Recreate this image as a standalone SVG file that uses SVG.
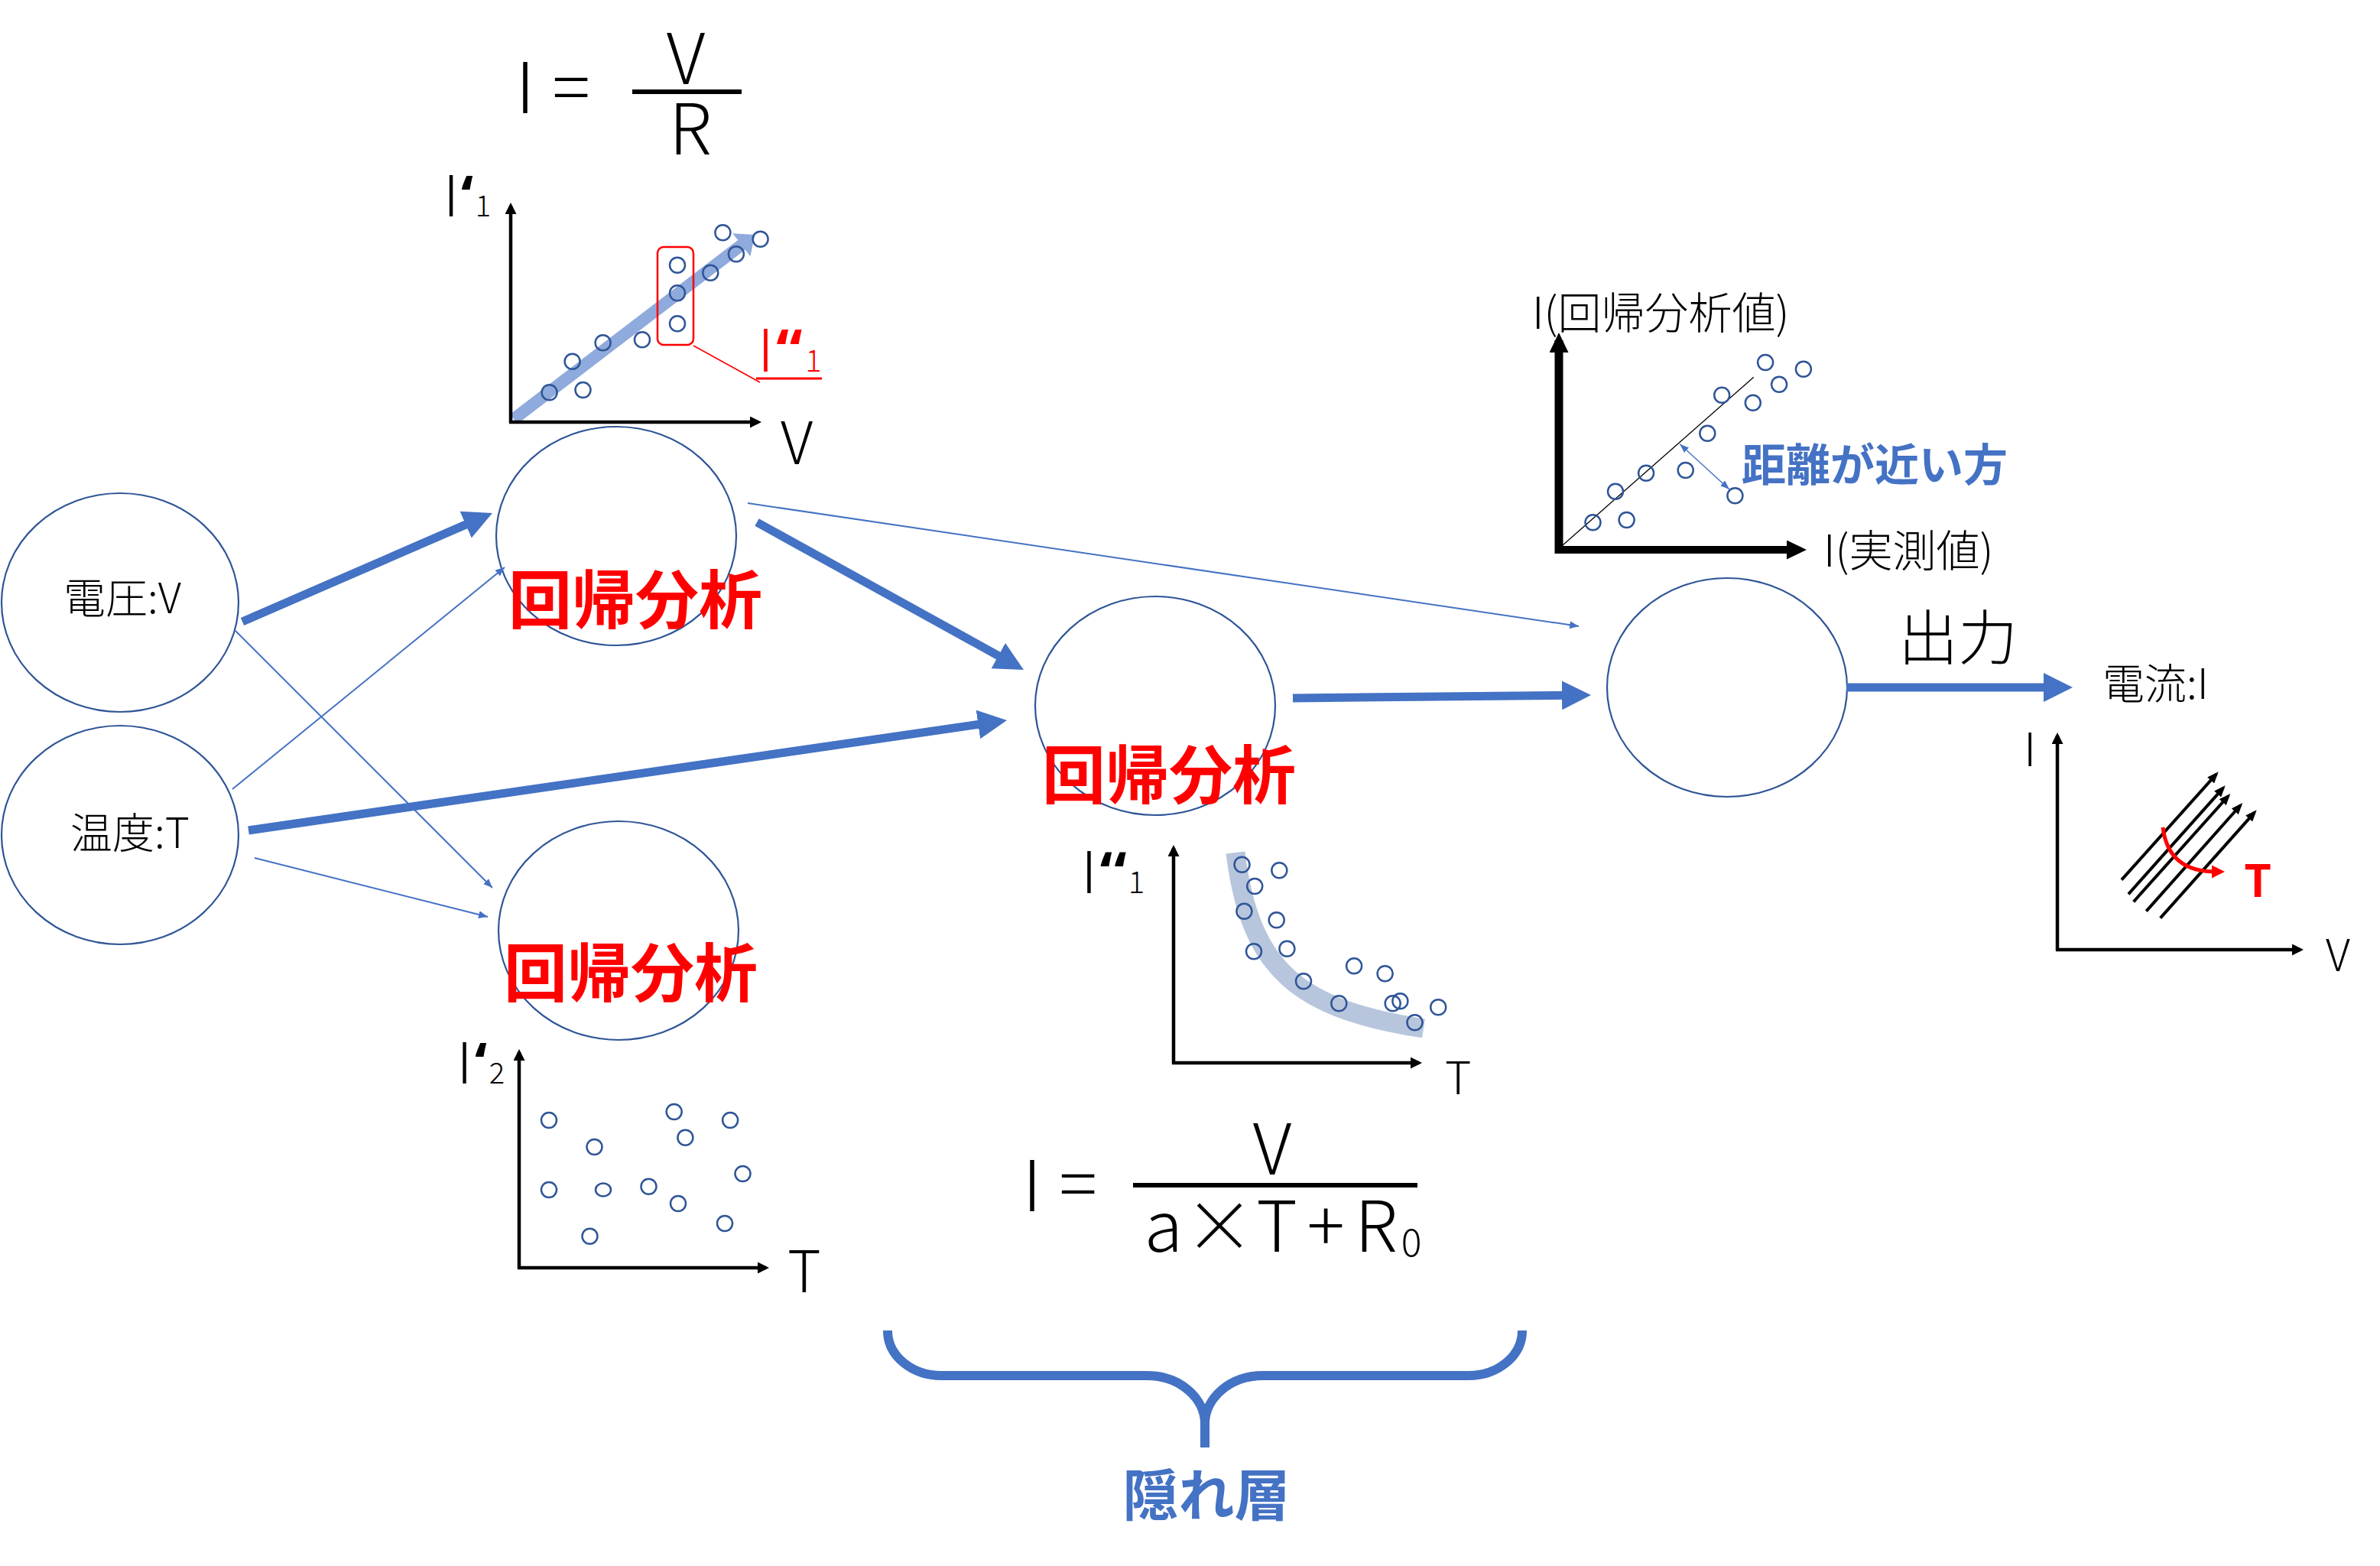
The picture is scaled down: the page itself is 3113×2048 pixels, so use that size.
<svg xmlns="http://www.w3.org/2000/svg" width="3113" height="2048" viewBox="0 0 3113 2048">
<style>
.t{font-family:"Noto Sans CJK JP","Noto Sans",sans-serif;fill:#000;font-weight:300}
.q{font-family:"Noto Sans","Liberation Sans",sans-serif;font-weight:700}
.red{fill:#FF0000;font-weight:700}
.blu{fill:#4472C4;font-weight:700}
.node{fill:#fff;stroke:#2F5597;stroke-width:2.2}
.pt{fill:none;stroke:#2F5597;stroke-width:2.5}
.ax{fill:none;stroke:#000;stroke-width:4.5}
.thick{fill:none;stroke:#4472C4;stroke-width:11}
.thin{fill:none;stroke:#4472C4;stroke-width:2}
</style>
<defs>
<marker id="aT" markerUnits="userSpaceOnUse" markerWidth="38" markerHeight="38" refX="10" refY="19" orient="auto"><path d="M0,0 L38,19 L0,38 z" fill="#4472C4"/></marker>
<marker id="at" markerUnits="userSpaceOnUse" markerWidth="12" markerHeight="10" refX="12" refY="5" orient="auto"><path d="M0,0 L12,5 L0,10 z" fill="#4472C4"/></marker>
<marker id="ad" markerUnits="userSpaceOnUse" markerWidth="12" markerHeight="9" refX="12" refY="4.5" orient="auto-start-reverse"><path d="M0,0 L12,4.5 L0,9 z" fill="#4472C4"/></marker>
<marker id="ak" markerUnits="userSpaceOnUse" markerWidth="15" markerHeight="15" refX="11" refY="7.5" orient="auto"><path d="M0,0 L15,7.5 L0,15 z" fill="#000"/></marker>
<marker id="akb" markerUnits="userSpaceOnUse" markerWidth="26" markerHeight="25" refX="16" refY="12.5" orient="auto"><path d="M0,0 L26,12.5 L0,25 z" fill="#000"/></marker>
<marker id="aks" markerUnits="userSpaceOnUse" markerWidth="15" markerHeight="12" refX="11" refY="6" orient="auto"><path d="M0,0 L15,6 L0,12 z" fill="#000"/></marker>
<marker id="alb" markerUnits="userSpaceOnUse" markerWidth="22" markerHeight="38" refX="4" refY="19" orient="auto"><path d="M0,0 L22,19 L0,38 z" fill="#8FAADC"/></marker>
<marker id="ar" markerUnits="userSpaceOnUse" markerWidth="17" markerHeight="17" refX="5" refY="8.5" orient="auto"><path d="M0,0 L17,8.5 L0,17 z" fill="#FF0000"/></marker>
</defs>

<!-- top formula -->
<g id="formula-top" class="t" font-size="92" text-anchor="middle">
<text x="687" y="148">I</text>
<text x="747" y="148">=</text>
<text x="897" y="110">V</text>
<text x="903" y="202">R</text>
<path d="M827,120 L970,120" stroke="#000" stroke-width="6"/>
</g>

<!-- chart 1 -->
<g id="chart-v">
<path d="M672,548 L973,318" stroke="#8FAADC" stroke-width="16" fill="none" marker-end="url(#alb)"/>
<path class="ax" d="M668,553 L668,269" marker-end="url(#ak)"/>
<path class="ax" d="M666,552 L992,552" marker-end="url(#ak)"/>
<circle class="pt" cx="718.6" cy="513.3" r="10"/>
<circle class="pt" cx="762.5" cy="510" r="10"/>
<circle class="pt" cx="748.6" cy="472.7" r="10"/>
<circle class="pt" cx="788.6" cy="448.3" r="10"/>
<circle class="pt" cx="840" cy="444.3" r="10"/>
<circle class="pt" cx="886" cy="383.3" r="10"/>
<circle class="pt" cx="886" cy="346.7" r="10"/>
<circle class="pt" cx="886" cy="423.3" r="10"/>
<circle class="pt" cx="929.3" cy="356.7" r="10"/>
<circle class="pt" cx="962.9" cy="332.3" r="10"/>
<circle class="pt" cx="945.4" cy="304.3" r="10"/>
<circle class="pt" cx="994.6" cy="312.7" r="10"/>
<rect x="860" y="323" width="47" height="128" rx="8" fill="none" stroke="#FF0000" stroke-width="2.5"/>
<path d="M907,452 L994,500" stroke="#FF0000" stroke-width="1.5" fill="none"/>
<path d="M989,495 L1075,495" stroke="#FF0000" stroke-width="3" fill="none"/>
<text class="t" font-size="74" text-anchor="middle"><tspan x="590" y="283">I</tspan><tspan class="q" x="611" y="283">‘</tspan><tspan x="632" y="283" font-size="38">1</tspan></text>
<text class="t" font-size="77" x="1021" y="607">V</text>
<text class="t" font-size="77" text-anchor="middle" style="fill:#FF0000"><tspan x="1001.5" y="486">I</tspan><tspan class="q" x="1023.5" y="486">‘</tspan><tspan class="q" x="1041" y="486">‘</tspan><tspan x="1064" y="486" font-size="40">1</tspan></text>
</g>

<!-- nodes -->
<g id="node-voltage">
<ellipse class="node" cx="157" cy="788" rx="155" ry="143"/>
<text class="t" font-size="55" x="160" y="802" text-anchor="middle">電圧:V</text>
</g>
<g id="node-temperature">
<ellipse class="node" cx="157" cy="1092" rx="155" ry="143"/>
<text class="t" font-size="55" x="170" y="1109" text-anchor="middle">温度:T</text>
</g>
<g id="node-hidden-top">
<ellipse class="node" cx="806" cy="701" rx="157" ry="143"/>
<text class="t red" font-size="83" x="831" y="815" text-anchor="middle">回帰分析</text>
</g>
<g id="node-hidden-bottom">
<ellipse class="node" cx="809" cy="1217" rx="157" ry="143"/>
<text class="t red" font-size="83" x="825" y="1303" text-anchor="middle">回帰分析</text>
</g>
<g id="node-hidden-middle">
<ellipse class="node" cx="1511" cy="923" rx="157" ry="143"/>
<text class="t red" font-size="83" x="1529" y="1044" text-anchor="middle">回帰分析</text>
</g>
<g id="node-output">
<ellipse class="node" cx="2259" cy="899" rx="157" ry="143"/>
</g>

<!-- connectors -->
<g id="connectors">
<path class="thick" d="M317,813 L618.3,682.1" marker-end="url(#aT)"/>
<path class="thin" d="M307,824 L644,1161" marker-end="url(#at)"/>
<path class="thin" d="M304,1032 L660,742" marker-end="url(#at)"/>
<path class="thick" d="M325,1086 L1289.3,946" marker-end="url(#aT)"/>
<path class="thin" d="M333,1122 L638,1199" marker-end="url(#at)"/>
<path class="thick" d="M990,683 L1314.5,862.4" marker-end="url(#aT)"/>
<path class="thin" d="M978,658 L2065,819" marker-end="url(#at)"/>
<path class="thick" d="M1691,913 L2053,909.3" marker-end="url(#aT)"/>
<path class="thick" d="M2415,899 L2683,899" marker-end="url(#aT)"/>
</g>
<text class="t" font-size="78" x="2561" y="863" text-anchor="middle">出力</text>
<text class="t" font-size="55" x="2750" y="914">電流:I</text>

<!-- top-right chart -->
<g id="chart-compare">
<path d="M2041.7,715 L2293.7,493.3" stroke="#000" stroke-width="1.3" fill="none"/>
<path d="M2039,724 L2039,445" fill="none" stroke="#000" stroke-width="11" marker-end="url(#akb)"/>
<path d="M2034,719 L2353,719" fill="none" stroke="#000" stroke-width="10" marker-end="url(#akb)"/>
<circle class="pt" cx="2083.5" cy="683.3" r="10"/>
<circle class="pt" cx="2127.6" cy="680" r="10"/>
<circle class="pt" cx="2113" cy="642.7" r="10"/>
<circle class="pt" cx="2153.1" cy="618.7" r="10"/>
<circle class="pt" cx="2204.7" cy="615" r="10"/>
<circle class="pt" cx="2233.3" cy="566.7" r="10"/>
<circle class="pt" cx="2269.4" cy="648.3" r="10"/>
<circle class="pt" cx="2252.2" cy="516.7" r="10"/>
<circle class="pt" cx="2292.8" cy="526.7" r="10"/>
<circle class="pt" cx="2327.1" cy="502.7" r="10"/>
<circle class="pt" cx="2309.1" cy="474" r="10"/>
<circle class="pt" cx="2358.9" cy="482.7" r="10"/>
<path d="M2197.2,580.7 L2262,640" stroke="#4472C4" stroke-width="1.5" fill="none" marker-start="url(#ad)" marker-end="url(#ad)"/>
<text class="t" font-size="57" x="2004" y="430">I(回帰分析値)</text>
<text class="t" font-size="57" x="2385" y="741">I(実測値)</text>
<text class="t blu" font-size="58" x="2278" y="629">距離が近い方</text>
</g>

<!-- middle chart -->
<g id="chart-t1">
<path d="M1616,1115 C1635,1270 1700,1320 1862,1345" stroke="#B7C6DC" stroke-width="25" fill="none"/>
<path class="ax" d="M1535,1391 L1535,1109" marker-end="url(#ak)"/>
<path class="ax" d="M1533,1390 L1856,1390" marker-end="url(#ak)"/>
<circle class="pt" cx="1624.5" cy="1130.7" r="10"/>
<circle class="pt" cx="1673.3" cy="1138.3" r="10"/>
<circle class="pt" cx="1641.2" cy="1159" r="10"/>
<circle class="pt" cx="1627.4" cy="1191.7" r="10"/>
<circle class="pt" cx="1669.7" cy="1203.3" r="10"/>
<circle class="pt" cx="1640" cy="1244.3" r="10"/>
<circle class="pt" cx="1683.4" cy="1240.7" r="10"/>
<circle class="pt" cx="1705" cy="1283.3" r="10"/>
<circle class="pt" cx="1771.1" cy="1263.3" r="10"/>
<circle class="pt" cx="1751.3" cy="1312.3" r="10"/>
<circle class="pt" cx="1811.6" cy="1273.3" r="10"/>
<circle class="pt" cx="1821.7" cy="1312.3" r="10"/>
<circle class="pt" cx="1831.4" cy="1309.3" r="10"/>
<circle class="pt" cx="1850.5" cy="1337.3" r="10"/>
<circle class="pt" cx="1881.2" cy="1317.3" r="10"/>
<text class="t" font-size="75" text-anchor="middle"><tspan x="1424.5" y="1168">I</tspan><tspan class="q" x="1447" y="1168">‘</tspan><tspan class="q" x="1465.5" y="1168">‘</tspan><tspan x="1486.5" y="1168" font-size="40">1</tspan></text>
<text class="t" font-size="59" x="1890" y="1431">T</text>
</g>

<!-- bottom-left chart -->
<g id="chart-t2">
<path class="ax" d="M679,1659 L679,1376" marker-end="url(#ak)"/>
<path class="ax" d="M677,1658 L1002,1658" marker-end="url(#ak)"/>
<circle class="pt" cx="718" cy="1465" r="10"/>
<circle class="pt" cx="777.5" cy="1500" r="10"/>
<circle class="pt" cx="718" cy="1556" r="10"/>
<ellipse class="pt" cx="789" cy="1556" rx="10" ry="8.5"/>
<circle class="pt" cx="848.5" cy="1551.7" r="10"/>
<circle class="pt" cx="771.5" cy="1616.7" r="10"/>
<circle class="pt" cx="881.7" cy="1454" r="10"/>
<circle class="pt" cx="896.4" cy="1487.7" r="10"/>
<circle class="pt" cx="955.1" cy="1465" r="10"/>
<circle class="pt" cx="971.5" cy="1535" r="10"/>
<circle class="pt" cx="887" cy="1574" r="10"/>
<circle class="pt" cx="948" cy="1600" r="10"/>
<text class="t" font-size="74" text-anchor="middle"><tspan x="607.5" y="1417">I</tspan><tspan class="q" x="629" y="1417">‘</tspan><tspan x="650" y="1417" font-size="38">2</tspan></text>
<text class="t" font-size="75" x="1030" y="1690">T</text>
</g>

<!-- bottom formula -->
<g id="formula-bottom" class="t" font-size="92" text-anchor="middle">
<text x="1350" y="1584">I</text>
<text x="1410" y="1582">=</text>
<text x="1664" y="1536">V</text>
<path d="M1482,1550 L1854,1550" stroke="#000" stroke-width="6"/>
<text y="1637"><tspan x="1522">a</tspan><tspan x="1595">×</tspan><tspan x="1670">T</tspan><tspan x="1734">+</tspan><tspan x="1800">R</tspan><tspan x="1846" y="1643" font-size="50">0</tspan></text>
</g>

<!-- bottom-right chart -->
<g id="chart-iv">
<path class="ax" d="M2691,1243 L2691,962" marker-end="url(#ak)"/>
<path class="ax" d="M2689,1242 L3009,1242" marker-end="url(#ak)"/>
<g stroke="#000" stroke-width="4" fill="none">
<path d="M2775,1150.7 L2899,1012.3" marker-end="url(#aks)"/>
<path d="M2784,1169.3 L2908,1030.3" marker-end="url(#aks)"/>
<path d="M2790.7,1179.3 L2914.6,1041" marker-end="url(#aks)"/>
<path d="M2807.3,1191.7 L2930.6,1053" marker-end="url(#aks)"/>
<path d="M2825.7,1200.7 L2949,1062.3" marker-end="url(#aks)"/>
</g>
<path d="M2829,1082 Q2836,1140 2898,1140" stroke="#FF0000" stroke-width="5" fill="none" marker-end="url(#ar)"/>
<text class="t red" font-size="58" x="2935" y="1173">T</text>
<text class="t" font-size="60" x="2647" y="1002">I</text>
<text class="t" font-size="58" x="3042" y="1270">V</text>
</g>

<!-- brace -->
<g id="hidden-layer-brace">
<path d="M1161,1740 C1161,1775 1195,1799 1231,1799 L1500,1799 C1545,1799 1576,1830 1576,1862 L1576,1893 M1576,1862 C1576,1830 1607,1799 1652,1799 L1921,1799 C1957,1799 1991,1775 1991,1740" fill="none" stroke="#4472C4" stroke-width="12"/>
<text class="t blu" font-size="73" x="1578" y="1982" text-anchor="middle">隠れ層</text>
</g>
</svg>
